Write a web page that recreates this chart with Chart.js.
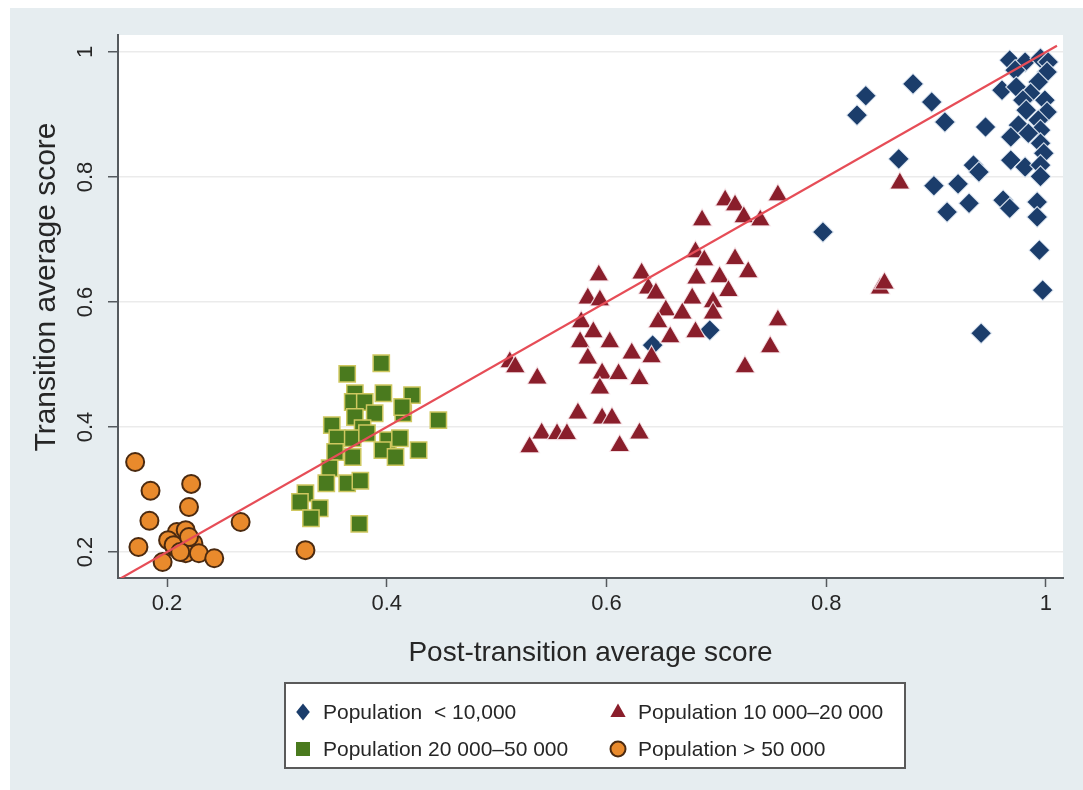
<!DOCTYPE html>
<html>
<head>
<meta charset="utf-8">
<title>Transition vs post-transition average score</title>
<script src="https://cdn.jsdelivr.net/npm/chart.js@4/dist/chart.umd.min.js"></script>
<style>
  html, body { margin: 0; padding: 0; background: #ffffff; }
  #wrap { width: 1083px; height: 790px; position: relative; }
</style>
</head>
<body>
<div id="wrap"><canvas id="c" width="1083" height="790"></canvas></div>
<script>
// ---- data: [post-transition score, transition score] per municipality ----
const popUnder10k = [
  [0.967,0.987],[0.981,0.984],[0.995,0.990],[1.002,0.984],[0.972,0.971],[1.001,0.968],
  [0.993,0.952],[0.879,0.949],[0.960,0.939],[0.973,0.944],[0.986,0.934],[0.836,0.930],
  [0.896,0.920],[0.979,0.923],[0.999,0.923],[0.982,0.907],[1.001,0.904],[0.828,0.899],
  [0.908,0.888],[0.993,0.891],[0.975,0.883],[0.945,0.880],[0.995,0.875],[0.968,0.864],
  [0.984,0.870],[0.995,0.854],[0.998,0.838],[0.866,0.829],[0.968,0.827],[0.981,0.816],
  [0.995,0.819],[0.934,0.819],[0.939,0.808],[0.995,0.801],[0.898,0.786],[0.920,0.789],
  [0.910,0.744],[0.930,0.758],[0.961,0.763],[0.967,0.750],[0.992,0.760],[0.992,0.736],
  [0.797,0.712],[0.994,0.683],[0.997,0.619],[0.941,0.550],[0.694,0.555],[0.642,0.531]
];
const pop10kTo20k = [
  [0.756,0.771],[0.708,0.763],[0.717,0.755],[0.725,0.736],[0.740,0.731],[0.687,0.731],
  [0.681,0.680],[0.689,0.667],[0.717,0.669],[0.729,0.648],[0.593,0.643],[0.632,0.646],
  [0.682,0.638],[0.703,0.640],[0.711,0.618],[0.638,0.622],[0.645,0.614],[0.583,0.606],
  [0.594,0.603],[0.678,0.606],[0.697,0.600],[0.654,0.587],[0.669,0.582],[0.697,0.582],
  [0.756,0.571],[0.577,0.568],[0.647,0.568],[0.588,0.552],[0.681,0.552],[0.658,0.544],
  [0.576,0.536],[0.603,0.536],[0.749,0.528],[0.623,0.518],[0.641,0.512],[0.583,0.510],
  [0.512,0.504],[0.517,0.496],[0.726,0.496],[0.596,0.486],[0.611,0.485],[0.537,0.478],
  [0.630,0.477],[0.594,0.462],[0.574,0.422],[0.596,0.414],[0.605,0.414],[0.541,0.390],
  [0.555,0.389],[0.564,0.389],[0.630,0.390],[0.530,0.368],[0.612,0.370],[0.867,0.790],
  [0.849,0.622],[0.853,0.630]
];
const pop20kTo50k = [
  [0.364,0.485],[0.395,0.502],[0.371,0.454],[0.397,0.454],[0.423,0.451],[0.369,0.440],
  [0.380,0.440],[0.389,0.422],[0.371,0.416],[0.415,0.422],[0.414,0.432],[0.447,0.411],
  [0.350,0.403],[0.378,0.398],[0.355,0.382],[0.369,0.382],[0.382,0.390],[0.401,0.379],
  [0.412,0.382],[0.396,0.363],[0.408,0.352],[0.429,0.363],[0.353,0.360],[0.369,0.352],
  [0.348,0.334],[0.345,0.310],[0.364,0.310],[0.376,0.314],[0.326,0.294],[0.321,0.280],
  [0.339,0.270],[0.331,0.254],[0.375,0.245]
];
const popOver50k = [
  [0.171,0.344],[0.185,0.298],[0.222,0.309],[0.220,0.272],[0.184,0.250],[0.267,0.248],
  [0.174,0.208],[0.196,0.184],[0.209,0.232],[0.217,0.235],[0.201,0.219],[0.224,0.214],
  [0.217,0.198],[0.229,0.198],[0.243,0.190],[0.326,0.203],[0.207,0.208],[0.206,0.211],
  [0.220,0.224],[0.212,0.200]
];
// reference line y = x
const equalityLine = [[0.1554,0.1554],[1.01,1.01]];

const seriesLabels = ['Population  < 10,000', 'Population 10 000\u201320 000',
                      'Population 20 000\u201350 000', 'Population > 50 000'];
const xTicks = [0.2, 0.4, 0.6, 0.8, 1];
const yTicks = [0.2, 0.4, 0.6, 0.8, 1];
const xTitle = 'Post-transition average score';
const yTitle = 'Transition average score';
const xRange = [0.1554, 1.0155];
const yRange = [0.1584, 1.0272];

const FONT = "'Liberation Sans', Arial, Helvetica, sans-serif";
const TEXT = '#262626';
const AXIS = '#555a5e';

const toXY = arr => arr.map(p => ({ x: p[0], y: p[1] }));

const styles = [
  { shape: 'rectRot',  fill: '#1b3d6b', stroke: 'rgba(235,242,250,0.85)', bw: 1.2, r: 10.5 },
  { shape: 'triangle', fill: '#8a1e2b', stroke: 'rgba(250,235,238,0.85)', bw: 1.2, r: 11.5 },
  { shape: 'rect',     fill: '#4a7a1e', stroke: '#cfc860',                bw: 1.5, r: 11.5 },
  { shape: 'circle',   fill: '#e98a2c', stroke: '#4b2a10',                bw: 2,   r: 9 }
];
const groups = [popUnder10k, pop10kTo20k, pop20kTo50k, popOver50k];

const datasets = [{
  type: 'scatter',
  label: 'y = x',
  data: toXY(equalityLine),
  showLine: true,
  borderColor: '#e64d57',
  borderWidth: 2.2,
  pointRadius: 0,
  order: 0
}];
groups.forEach((g, i) => {
  const s = styles[i];
  datasets.push({
    label: seriesLabels[i],
    data: toXY(g),
    pointStyle: s.shape,
    pointRadius: s.r,
    pointHoverRadius: s.r,
    backgroundColor: s.fill,
    borderColor: s.stroke,
    borderWidth: s.bw,
    order: 4 - i
  });
});

// panel and plot backgrounds
const backdrop = {
  id: 'backdrop',
  beforeDraw(chart) {
    const { ctx, chartArea: a } = chart;
    ctx.save();
    ctx.fillStyle = '#ffffff';
    ctx.fillRect(0, 0, chart.width, chart.height);
    ctx.fillStyle = '#e6edf0';
    ctx.fillRect(10, 8, chart.width - 10, chart.height - 8);
    ctx.fillStyle = '#ffffff';
    ctx.fillRect(a.left, a.top, a.right - a.left, a.bottom - a.top);
    ctx.restore();
  }
};

function marker(ctx, s, x, y) {
  ctx.save();
  ctx.fillStyle = s.fill;
  ctx.strokeStyle = s.stroke;
  ctx.lineWidth = s.bw;
  ctx.beginPath();
  const r = 8.5;
  if (s.shape === 'rectRot') {
    ctx.moveTo(x, y - r); ctx.lineTo(x + r * 0.8, y); ctx.lineTo(x, y + r); ctx.lineTo(x - r * 0.8, y);
  } else if (s.shape === 'triangle') {
    ctx.moveTo(x, y - r); ctx.lineTo(x + r * 0.9, y + r * 0.6); ctx.lineTo(x - r * 0.9, y + r * 0.6);
  } else if (s.shape === 'rect') {
    ctx.rect(x - 7, y - 7, 14, 14);
  } else {
    ctx.arc(x, y, 7.5, 0, Math.PI * 2);
  }
  ctx.closePath();
  ctx.fill();
  if (s.shape === 'circle') ctx.stroke();
  ctx.restore();
}

// axis titles and boxed two-column legend
const annotations = {
  id: 'annotations',
  afterDraw(chart) {
    const { ctx, chartArea: a } = chart;
    ctx.save();
    ctx.fillStyle = TEXT;
    ctx.textAlign = 'center';
    ctx.textBaseline = 'middle';
    ctx.font = '28px ' + FONT;
    ctx.fillText(xTitle, (a.left + a.right) / 2, 653);
    ctx.save();
    ctx.font = '30px ' + FONT;
    ctx.translate(47, 287);
    ctx.rotate(-Math.PI / 2);
    ctx.fillText(yTitle, 0, 0);
    ctx.restore();

    // legend box
    ctx.fillStyle = '#ffffff';
    ctx.fillRect(285, 683, 620, 85);
    ctx.strokeStyle = '#5a5a5a';
    ctx.lineWidth = 2;
    ctx.strokeRect(285, 683, 620, 85);

    const cols = [303, 618];
    const rows = [712, 749];
    ctx.font = '21px ' + FONT;
    ctx.textAlign = 'left';
    for (let i = 0; i < 4; i++) {
      const cx = cols[i % 2], cy = rows[Math.floor(i / 2)];
      marker(ctx, styles[i], cx, cy);
      ctx.fillStyle = TEXT;
      ctx.fillText(seriesLabels[i], cx + 20, cy + 1);
    }
    ctx.restore();
  }
};

new Chart(document.getElementById('c'), {
  type: 'scatter',
  data: { datasets },
  plugins: [backdrop, annotations],
  options: {
    responsive: false,
    animation: false,
    devicePixelRatio: 1,
    layout: { padding: { left: 10, top: 35, right: 20, bottom: 122 } },
    plugins: { legend: { display: false }, tooltip: { enabled: false } },
    scales: {
      x: {
        type: 'linear',
        min: xRange[0], max: xRange[1],
        afterBuildTicks: s => { s.ticks = xTicks.map(v => ({ value: v })); },
        afterFit: s => { s.height = 90; },
        grid: { drawOnChartArea: false, drawTicks: true, tickLength: 9, tickColor: AXIS, tickWidth: 1.5 },
        border: { display: true, color: AXIS, width: 2 },
        ticks: {
          font: { family: FONT, size: 22 }, color: TEXT, padding: 4,
          maxRotation: 0, minRotation: 0, autoSkip: false,
          callback: v => String(v)
        }
      },
      y: {
        type: 'linear',
        min: yRange[0], max: yRange[1],
        afterBuildTicks: s => { s.ticks = yTicks.map(v => ({ value: v })); },
        afterFit: s => { s.width = 108; },
        grid: { color: '#ebebeb', lineWidth: 1.5, drawTicks: true, tickLength: 10, tickColor: AXIS, tickWidth: 1.5 },
        border: { display: true, color: AXIS, width: 2 },
        ticks: {
          font: { family: FONT, size: 22 }, color: TEXT, padding: 7,
          minRotation: 90, maxRotation: 90, crossAlign: 'center', autoSkip: false,
          callback: v => String(v)
        }
      }
    }
  }
});
</script>
</body>
</html>
